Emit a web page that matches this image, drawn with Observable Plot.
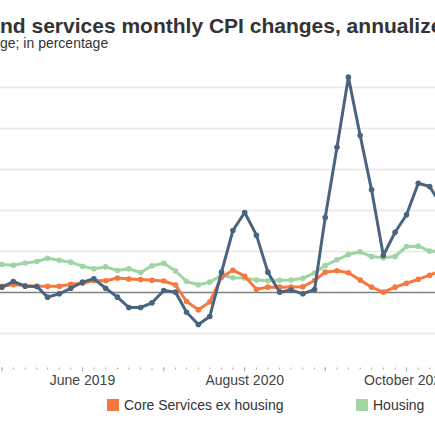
<!DOCTYPE html>
<html><head><meta charset="utf-8">
<script src="https://cdn.jsdelivr.net/npm/d3@7"></script>
<script src="https://cdn.jsdelivr.net/npm/@observablehq/plot@0.6"></script>
<style>
html,body{margin:0;padding:0;background:#fff;}
body{width:435px;height:435px;overflow:hidden;font-family:"Liberation Sans",Arial,sans-serif;position:relative;}
#header{position:relative;height:56px;overflow:hidden;}
#title{position:absolute;top:16px;left:0;white-space:nowrap;font-weight:bold;font-size:21px;line-height:19px;color:#333;}
#subtitle{position:absolute;top:37.4px;left:0;white-space:nowrap;font-size:14px;line-height:12px;color:#333;}
#chart svg{display:block;}
#legend{position:relative;height:43px;}
.item{position:absolute;top:0;height:43px;}
.sw{position:absolute;top:6.5px;width:12px;height:12px;}
.lab{position:absolute;top:6.2px;left:17px;white-space:nowrap;font-size:14px;line-height:14px;color:#333;}
</style>
</head><body>
<div id="header"><span id="title"></span><span id="subtitle"></span></div>
<div id="chart"></div>
<div id="legend"></div>
<script>
// ---- data ----
const titleText = "Core goods and services monthly CPI changes, annualized";
const titleHiddenPrefix = "Core goods a";
const subtitleText = "Month-over-month change; in percentage";
const subtitleHiddenPrefix = "Month-over-month chan";

const months = d3.utcMonth.range(new Date(Date.UTC(2018, 9, 1)), new Date(Date.UTC(2022, 1, 1)));
const coreGoods = [0.5, 0.65, 1.34, 0.77, 0.73, -0.57, -0.16, 0.52, 1.26, 1.67, 0.52, -0.57, -1.83, -1.83, -1.26, 0.24, 0.04, -2.4, -3.9, -2.93, 2.48, 7.56, 9.76, 6.99, 2.48, 0.04, 0.3, -0.16, 0.37, 9.15, 17.72, 26.26, 19.15, 12.52, 4.51, 7.35, 9.48, 13.33, 12.93, 10.6];
const coreServicesExHousing = [0.77, 0.77, 0.98, 0.85, 0.77, 0.77, 0.77, 1.01, 1.13, 1.46, 1.43, 1.77, 1.65, 1.59, 1.5, 1.4, 0.91, -1.1, -2.1, -1.16, 1.87, 2.72, 1.99, 0.39, 0.65, 0.65, 0.67, 0.7, 1.46, 2.48, 2.65, 2.4, 1.51, 0.65, 0.04, 0.65, 1.13, 1.61, 2.11, 2.7];
const housing = [3.41, 3.41, 3.33, 3.6, 3.78, 4.17, 3.94, 3.7, 3.21, 2.89, 3.12, 2.68, 2.89, 2.44, 3.26, 3.56, 2.62, 1.34, 0.95, 1.26, 2.11, 1.79, 1.77, 1.51, 1.43, 1.5, 1.52, 1.73, 2.38, 3.29, 3.99, 4.63, 4.96, 4.39, 4.23, 4.39, 5.61, 5.65, 5.04, 5.0];

const seriesNames = ["Core goods", "Core Services ex housing", "Housing"];
const seriesColors = ["#4a6480", "#f5793f", "#a1d4a5"];
const gridValues = [-5, 5, 10, 15, 20, 25];
const labelTicks = [new Date(Date.UTC(2019, 5, 1)), new Date(Date.UTC(2020, 7, 1)), new Date(Date.UTC(2021, 9, 1))];
const majorTicks = [new Date(Date.UTC(2018, 10, 1)), new Date(Date.UTC(2019, 5, 1)), new Date(Date.UTC(2020, 0, 1)), new Date(Date.UTC(2020, 7, 1)), new Date(Date.UTC(2021, 2, 1)), new Date(Date.UTC(2021, 9, 1))];
const legendItems = [{name: seriesNames[1], color: seriesColors[1], left: 107}, {name: seriesNames[2], color: seriesColors[2], left: 356}];

// ---- header (cropped title) ----
function measure(text, font) {
  const c = document.createElement("canvas").getContext("2d");
  c.font = font; return c.measureText(text).width;
}
const t = document.getElementById("title");
t.textContent = titleText;
t.style.left = (-measure(titleHiddenPrefix, "bold 21px 'Liberation Sans', Arial, sans-serif")) + "px";
const s = document.getElementById("subtitle");
s.textContent = subtitleText;
s.style.left = (-measure(subtitleHiddenPrefix, "14px 'Liberation Sans', Arial, sans-serif")) + "px";

// ---- chart ----
const seriesValues = [coreGoods, coreServicesExHousing, housing];
const rows = seriesValues.map((vals, k) => months.map((date, i) => ({date, value: vals[i], series: seriesNames[k]})));
const drawOrder = [2, 1, 0];
const pxPerUnit = 8.2, zeroY = 236, marginTop = 10, frameBottom = 311.5;

const marks = [
  Plot.ruleY(gridValues, {stroke: "#e6e6e6", strokeWidth: 1.5}),
  Plot.ruleY([0], {stroke: "#808080", strokeWidth: 1.5})
];
for (const k of drawOrder) {
  marks.push(Plot.line(rows[k], {x: "date", y: "value", stroke: seriesColors[k], strokeWidth: 3, clip: true}));
  marks.push(Plot.dot(rows[k], {x: "date", y: "value", r: 2.8, fill: seriesColors[k], clip: true}));
}
marks.push(Plot.axisX(months, {tickSize: 2, tickFormat: () => "", stroke: "#aaa"}));
marks.push(Plot.axisX(majorTicks, {tickSize: 4, tickFormat: () => "", stroke: "#aaa"}));
marks.push(Plot.axisX(labelTicks, {tickSize: 0, tickPadding: 7.5, tickFormat: d3.utcFormat("%B %Y"), fontSize: 14, fill: "#444"}));

const chart = Plot.plot({
  width: 435, height: 336,
  marginLeft: 0, marginRight: 0, marginTop: marginTop, marginBottom: 336 - frameBottom,
  style: {fontFamily: "'Liberation Sans', Arial, sans-serif", background: "#fff", overflow: "visible"},
  x: {type: "utc", domain: [labelTicks[0], labelTicks[2]], range: [82, 406], axis: null},
  y: {domain: [(zeroY - frameBottom) / pxPerUnit, (zeroY - marginTop) / pxPerUnit], axis: null},
  marks
});
document.getElementById("chart").appendChild(chart);

// ---- legend ----
const lg = document.getElementById("legend");
for (const it of legendItems) {
  const d = document.createElement("div"); d.className = "item"; d.style.left = it.left + "px";
  const sw = document.createElement("div"); sw.className = "sw"; sw.style.background = it.color;
  const lb = document.createElement("div"); lb.className = "lab"; lb.textContent = it.name;
  d.appendChild(sw); d.appendChild(lb); lg.appendChild(d);
}
</script>
</body></html>
